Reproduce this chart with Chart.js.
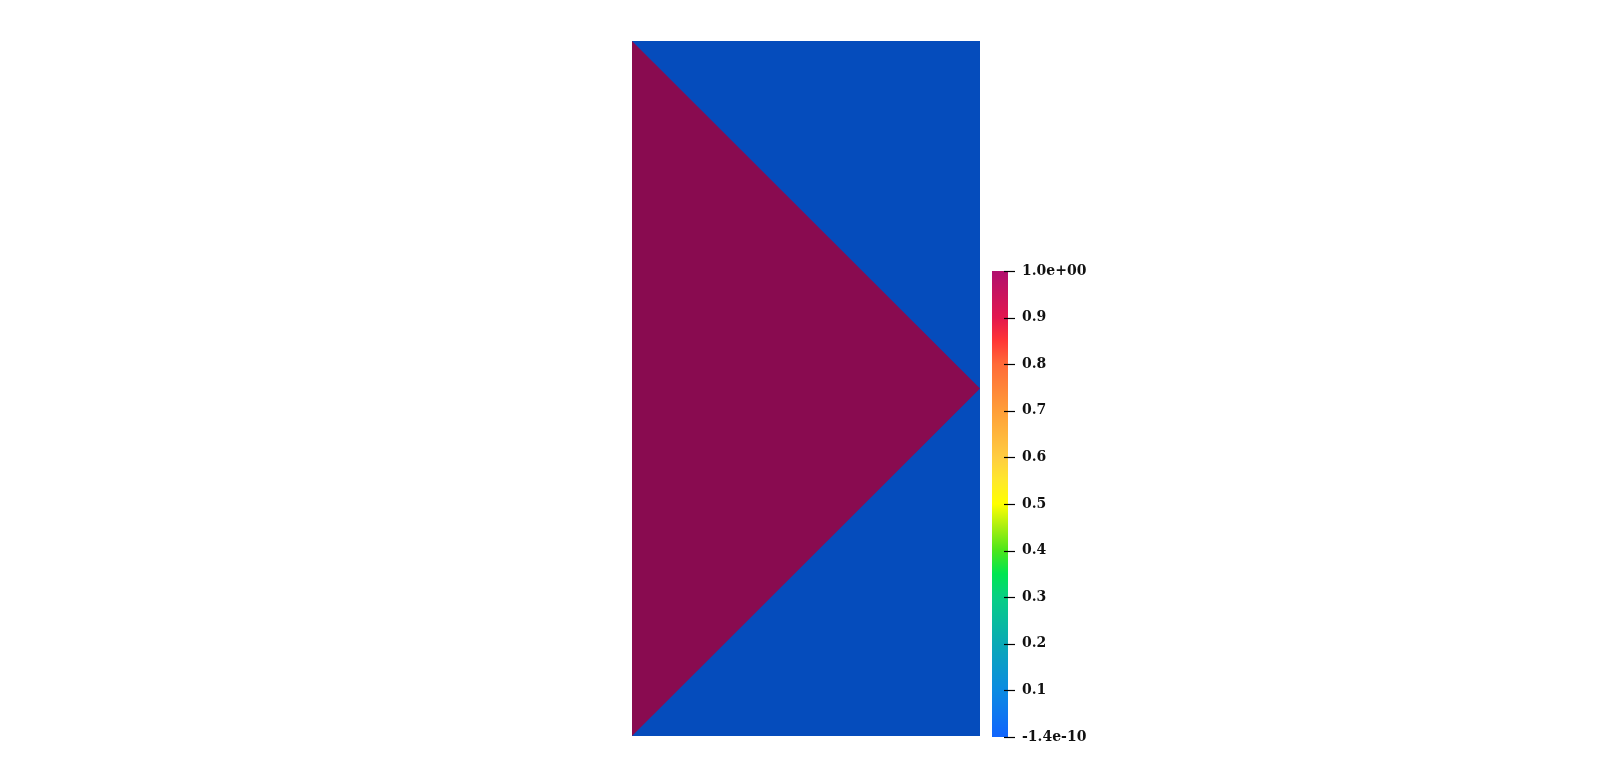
<!DOCTYPE html>
<html>
<head>
<meta charset="utf-8">
<script src="https://cdn.jsdelivr.net/npm/chart.js@4/dist/chart.umd.min.js"></script>
<style>
  html, body { margin: 0; padding: 0; background: #ffffff; }
  body { width: 1612px; height: 778px; position: relative; overflow: hidden; }
  #fieldBox { position: absolute; left: 632px; top: 41px; width: 348px; height: 695px; }
  #barBox { position: absolute; left: 992px; top: 251px; width: 126px; height: 506px; }
</style>
</head>
<body>
<div id="fieldBox"><canvas id="field"></canvas></div>
<div id="barBox"><canvas id="cbar"></canvas></div>
<script>
// ---- data ----
const domainX = [0, 1];
const domainY = [0, 2];
// background region (value ~ 0): top edge of the rectangle, filled down to y=0
const lowRegionTop = [{x: 0, y: 2}, {x: 1, y: 2}];
// high region (value = 1): triangle between these two edges
const highUpperEdge = [{x: 0, y: 2}, {x: 1, y: 1}];
const highLowerEdge = [{x: 0, y: 0}, {x: 1, y: 1}];
const lowValueColor = '#054cbc';
const highValueColor = '#890b50';

const colorRange = [-1.4e-10, 1.0];
const tickValues = [-1.4e-10, 0.1, 0.2, 0.3, 0.4, 0.5, 0.6, 0.7, 0.8, 0.9, 1.0];
const tickLabels = ['-1.4e-10', '0.1', '0.2', '0.3', '0.4', '0.5', '0.6', '0.7', '0.8', '0.9', '1.0e+00'];
const gradientStops = [0, 0.1, 0.2, 0.3, 0.35, 0.4, 0.45, 0.5, 0.55, 0.6, 0.7, 0.8, 0.85, 0.9, 1.0];
const gradientColors = ['#1164fd', '#0b8be2', '#0aa9b6', '#07cf84', '#00e650', '#4ce61c', '#a8ee10', '#ffff00',
                        '#ffe82a', '#ffcd40', '#ff9e38', '#ff6a38', '#ff3636', '#e3174f', '#b0106e'];

Chart.defaults.animation = false;
Chart.defaults.font.family = 'DejaVu Serif';

// ---- field plot ----
new Chart(document.getElementById('field'), {
  type: 'scatter',
  data: {
    datasets: [
      { data: highUpperEdge, showLine: true, fill: '+1', backgroundColor: highValueColor,
        borderWidth: 0, pointRadius: 0, order: 1 },
      { data: highLowerEdge, showLine: true, fill: false, borderWidth: 0, pointRadius: 0, order: 1 },
      { data: lowRegionTop, showLine: true, fill: 'origin', backgroundColor: lowValueColor,
        borderWidth: 0, pointRadius: 0, order: 3 }
    ]
  },
  options: {
    responsive: true, maintainAspectRatio: false,
    layout: { padding: 0 },
    plugins: { legend: { display: false }, tooltip: { enabled: false } },
    scales: {
      x: { type: 'linear', min: domainX[0], max: domainX[1], display: false },
      y: { type: 'linear', min: domainY[0], max: domainY[1], display: false }
    }
  }
});

// ---- colour bar ----
const tickMarks = {
  id: 'tickMarks',
  afterDraw(chart) {
    const ctx = chart.ctx, s = chart.scales.y, a = chart.chartArea;
    ctx.save();
    ctx.strokeStyle = '#000';
    ctx.lineWidth = 1.2;
    tickValues.forEach(v => {
      const y = Math.round(s.getPixelForValue(v)) + 0.5;
      ctx.beginPath();
      ctx.moveTo(a.right - 4, y);
      ctx.lineTo(a.right + 7, y);
      ctx.stroke();
    });
    ctx.restore();
  }
};

new Chart(document.getElementById('cbar'), {
  type: 'bar',
  data: {
    labels: ['v'],
    datasets: [{
      data: [colorRange],
      borderWidth: 0,
      categoryPercentage: 1,
      barPercentage: 1,
      backgroundColor(ctx) {
        const a = ctx.chart.chartArea;
        if (!a) return gradientColors[0];
        const s = ctx.chart.scales.y;
        const g = ctx.chart.ctx.createLinearGradient(0, s.getPixelForValue(colorRange[0]), 0, s.getPixelForValue(colorRange[1]));
        gradientStops.forEach((p, i) => g.addColorStop(p, gradientColors[i]));
        return g;
      }
    }]
  },
  plugins: [tickMarks],
  options: {
    responsive: true, maintainAspectRatio: false,
    layout: { padding: { top: 20, bottom: 20, left: 0, right: 0 } },
    plugins: { legend: { display: false }, tooltip: { enabled: false } },
    scales: {
      x: { display: false },
      y: {
        position: 'right',
        min: colorRange[0], max: colorRange[1],
        afterFit(scale) { scale.width = 110; },
        afterBuildTicks(scale) { scale.ticks = tickValues.map(v => ({ value: v })); },
        border: { display: false },
        grid: { display: true, drawOnChartArea: false, drawTicks: true, tickLength: 11, color: 'rgba(0,0,0,0)' },
        ticks: {
          padding: 3,
          color: '#111',
          font: { family: 'DejaVu Serif', size: 14, weight: 'bold' },
          autoSkip: false,
          callback(value, index) { return tickLabels[index]; }
        }
      }
    }
  }
});
</script>
</body>
</html>
